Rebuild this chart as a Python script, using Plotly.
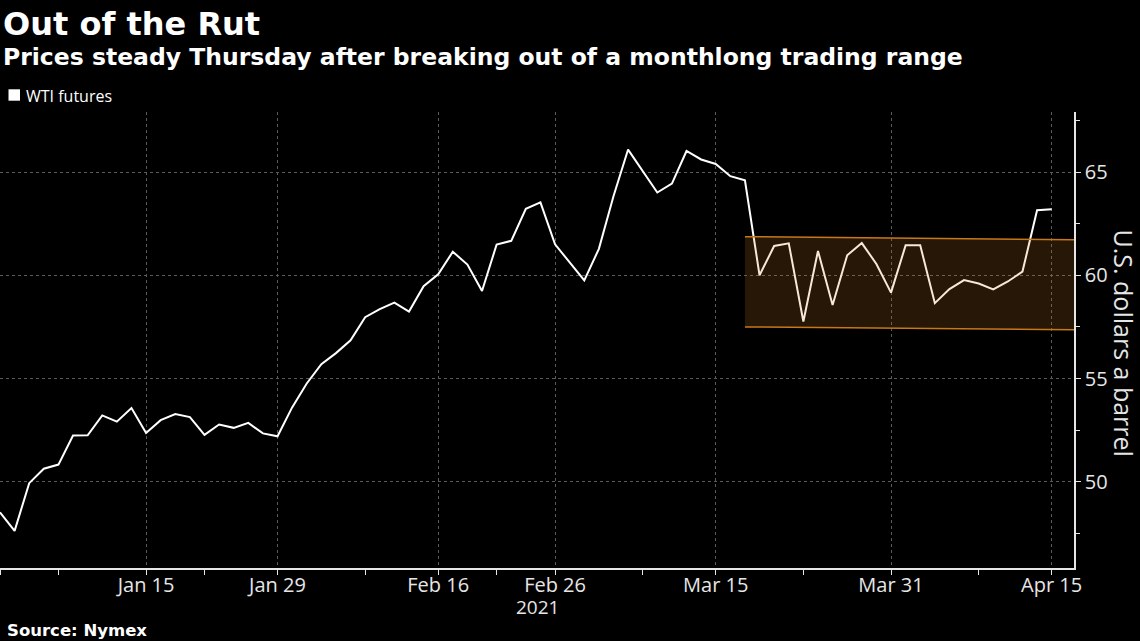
import plotly.graph_objects as go

# ── data ──────────────────────────────────────────────────────
dates = [
    '2020-12-31', '2021-01-04', '2021-01-05', '2021-01-06', '2021-01-07', '2021-01-08',
    '2021-01-11', '2021-01-12', '2021-01-13', '2021-01-14', '2021-01-15',
    '2021-01-19', '2021-01-20', '2021-01-21', '2021-01-22',
    '2021-01-25', '2021-01-26', '2021-01-27', '2021-01-28', '2021-01-29',
    '2021-02-01', '2021-02-02', '2021-02-03', '2021-02-04', '2021-02-05',
    '2021-02-08', '2021-02-09', '2021-02-10', '2021-02-11', '2021-02-12',
    '2021-02-16', '2021-02-17', '2021-02-18', '2021-02-19',
    '2021-02-22', '2021-02-23', '2021-02-24', '2021-02-25', '2021-02-26',
    '2021-03-01', '2021-03-02', '2021-03-03', '2021-03-04', '2021-03-05',
    '2021-03-08', '2021-03-09', '2021-03-10', '2021-03-11', '2021-03-12',
    '2021-03-15', '2021-03-16', '2021-03-17', '2021-03-18', '2021-03-19',
    '2021-03-22', '2021-03-23', '2021-03-24', '2021-03-25', '2021-03-26',
    '2021-03-29', '2021-03-30', '2021-03-31', '2021-04-01', '2021-04-02',
    '2021-04-05', '2021-04-06', '2021-04-07', '2021-04-08', '2021-04-09',
    '2021-04-12', '2021-04-13', '2021-04-14', '2021-04-15',
]
wti = [
    48.52, 47.62, 49.93, 50.63, 50.83, 52.24,
    52.25, 53.21, 52.91, 53.57, 52.36,
    52.98, 53.28, 53.13, 52.27,
    52.77, 52.61, 52.85, 52.34, 52.20,
    53.60, 54.76, 55.69, 56.23, 56.85,
    57.97, 58.36, 58.68, 58.24, 59.47,
    60.05, 61.14, 60.52, 59.24,
    61.49, 61.67, 63.22, 63.53, 61.50,
    60.64, 59.75, 61.28, 63.83, 66.09,
    65.05, 64.01, 64.44, 66.02, 65.61,
    65.39, 64.80, 64.60, 60.00, 61.42,
    61.55, 57.76, 61.18, 58.56, 60.97,
    61.56, 60.55, 59.16, 61.45, 61.45,
    58.65, 59.33, 59.77, 59.60, 59.32,
    59.70, 60.18, 63.15, 63.20,
]

# trading range channel (start -> beyond right edge)
channel_x = ['2021-03-17', '2021-04-19']
channel_top = [61.87, 61.70]
channel_bottom = [57.50, 57.34]

tick_dates = ['2021-01-15', '2021-01-29', '2021-02-16', '2021-02-26',
              '2021-03-15', '2021-03-31', '2021-04-15']
tick_labels = ['Jan 15', 'Jan 29', 'Feb 16', 'Feb 26', 'Mar 15', 'Mar 31', 'Apr 15']
minor_dates = ['2020-12-31', '2021-01-07', '2021-01-22', '2021-02-08',
               '2021-02-22', '2021-03-08', '2021-03-23', '2021-04-08']
holidays = ['2021-01-01', '2021-01-18', '2021-02-15']

y_ticks = [50, 55, 60, 65]
y_minor = [47.5, 52.5, 57.5, 62.5, 67.5]

# ── figure ────────────────────────────────────────────────────
W, H = 1140, 641
L, R, T, B = 0, 66, 112, 73
PW, PH = W - L - R, H - T - B


def py(pix):
    # pixel row -> paper y
    return (H - B - pix) / PH


def px(pix):
    return (pix - L) / PW


fig = go.Figure()

fig.add_trace(go.Scatter(
    x=dates, y=wti, mode='lines',
    line=dict(color='white', width=2),
    showlegend=False, hoverinfo='x+y',
))

fig.add_trace(go.Scatter(
    x=channel_x, y=channel_bottom, mode='lines',
    line=dict(color='#c87818', width=1.5),
    showlegend=False, hoverinfo='skip',
))
fig.add_trace(go.Scatter(
    x=channel_x, y=channel_top, mode='lines',
    line=dict(color='#c87818', width=1.5),
    fill='tonexty', fillcolor='rgba(210,130,40,0.18)',
    showlegend=False, hoverinfo='skip',
))

grid = '#5a5a5a'
tick_font = dict(family='Open Sans', size=20, color='#e6e6e6')

fig.update_xaxes(
    type='date',
    range=['2020-12-31', '2021-04-16 12:40'],
    rangebreaks=[dict(bounds=['sat', 'mon']), dict(values=holidays)],
    tickmode='array', tickvals=tick_dates, ticktext=tick_labels,
    ticks='outside', ticklen=5, tickcolor='#e6e6e6', tickwidth=1,
    ticklabelstandoff=-7,
    showgrid=True, gridcolor=grid, griddash='dot', gridwidth=1,
    minor=dict(tickmode='array', tickvals=minor_dates, ticks='outside',
               ticklen=5, tickcolor='#e6e6e6', showgrid=False),
    showline=True, linecolor='#e6e6e6', linewidth=1.5,
    tickfont=tick_font, zeroline=False, fixedrange=True,
)
fig.update_yaxes(
    side='right',
    range=[45.82, 67.91],
    tickmode='array', tickvals=y_ticks,
    ticks='outside', ticklen=5, tickcolor='#e6e6e6', tickwidth=1,
    showgrid=True, gridcolor=grid, griddash='dot', gridwidth=1,
    minor=dict(tickmode='array', tickvals=y_minor, ticks='outside',
               ticklen=4, tickcolor='#e6e6e6', showgrid=False),
    showline=True, linecolor='#e6e6e6', linewidth=1.5,
    tickfont=tick_font, zeroline=False, fixedrange=True,
)

bold = 'DejaVu Sans'
annotations = [
    dict(text='<b>Out of the Rut</b>', x=px(1), y=py(24), xanchor='left', yanchor='middle',
         font=dict(family=bold, size=32, color='white')),
    dict(text='<b>Prices steady Thursday after breaking out of a monthlong trading range</b>',
         x=px(1), y=py(56.5), xanchor='left', yanchor='middle',
         font=dict(family=bold, size=23.5, color='white')),
    dict(text='WTI futures', x=px(24), y=py(95.5), xanchor='left', yanchor='middle',
         font=dict(family='Open Sans', size=16, color='white')),
    dict(text='2021', x=0.5, y=py(607), xanchor='center', yanchor='middle',
         font=dict(family='Open Sans', size=19, color='#e6e6e6')),
    dict(text='U.S. dollars a barrel', x=px(1124), y=py(342.5), textangle=90,
         xanchor='center', yanchor='middle',
         font=dict(family='Open Sans', size=25, color='#e6e6e6')),
    dict(text='<b>Source: Nymex</b>', x=px(5), y=py(630.5), xanchor='left', yanchor='middle',
         font=dict(family=bold, size=16.5, color='white')),
]
for a in annotations:
    a.update(xref='paper', yref='paper', showarrow=False)

fig.update_layout(
    width=W, height=H,
    margin=dict(l=L, r=R, t=T, b=B, pad=0),
    paper_bgcolor='black', plot_bgcolor='black',
    annotations=annotations,
    shapes=[dict(type='rect', xref='paper', yref='paper',
                 x0=px(8.5), x1=px(20), y0=py(100.7), y1=py(89.3),
                 fillcolor='white', line=dict(width=0))],
    showlegend=False,
)

# page body has a default margin; drop it so the figure sits at 0,0
fig.write_html('out.html', config={'displayModeBar': False},
               post_script="document.body.style.margin='0';")
